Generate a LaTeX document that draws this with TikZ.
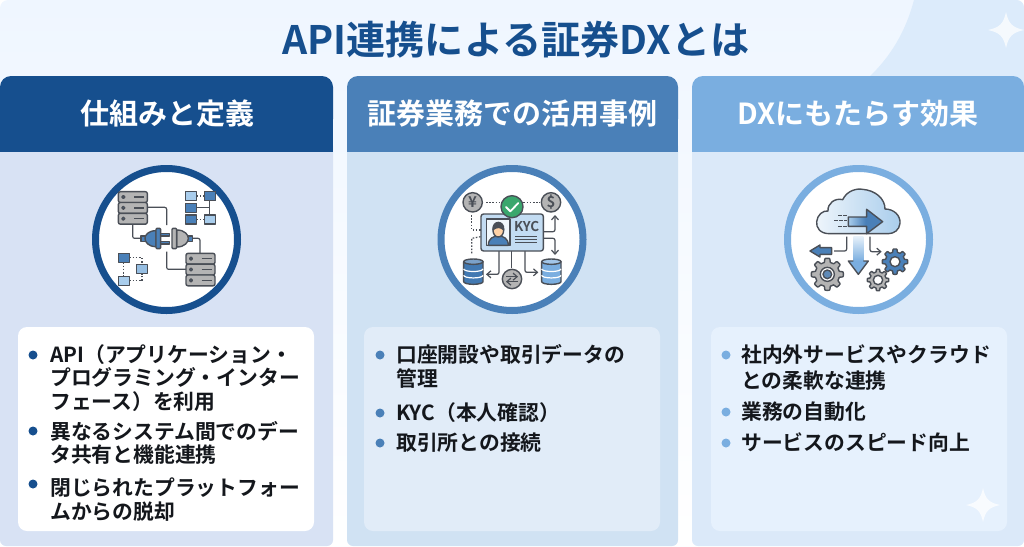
\documentclass[tikz,border=0pt]{standalone}
\usepackage{fontspec}
\setmainfont{Noto Sans CJK JP}[BoldFont=* Bold]
\definecolor{navy}{HTML}{164F8E}
\definecolor{midblue}{HTML}{4A80B8}
\definecolor{skyblue}{HTML}{7AAEE0}
\definecolor{lightbox}{HTML}{A9CDEC}
\definecolor{iconline}{HTML}{4A4F57}
\definecolor{icongray}{HTML}{B4B4B4}
\definecolor{okgreen}{HTML}{3AA76D}
\definecolor{inktext}{HTML}{14171C}
\definecolor{paletop}{HTML}{EFF6FF}
\definecolor{palecorner}{HTML}{DCEBFB}
\definecolor{boxb}{HTML}{E1ECF8}
\definecolor{boxc}{HTML}{E6F1FD}
\tikzset{
	titletext/.style={font=\fontsize{39.2}{44}\selectfont\bfseries,text=navy,inner sep=0pt},
	headtext/.style={font=\fontsize{29}{32}\selectfont\bfseries,text=white,inner sep=0pt},
	itemtext/.style={font=\fontsize{20.8}{#1}\selectfont\bfseries,text=inktext,inner sep=0pt,anchor=north west,align=left},
	itemdot/.style={circle,fill=#1,inner sep=0pt,minimum size=9pt},
	stroke/.style={draw=iconline,line width=1.4pt,line join=round},
	wire/.style={draw=iconline,line width=1.2pt,rounded corners=2pt},
	dotwire/.style={draw=iconline,line width=1.2pt,dash pattern=on 1.6pt off 1.6pt},
	wirearrow/.style={wire,-{Straight Barb[length=4pt,width=7pt]}},
	starshape/.style={fill=white,fill opacity=0.72},
}
\usetikzlibrary{arrows.meta}
% four pointed star: x, y, size
\newcommand{\starmark}[3]{
	\fill[starshape,shift={(#1,#2)},scale=#3] (0,-1) .. controls (.14,-.35) and (.35,-.14) .. (1,0) .. controls (.35,.14) and (.14,.35) .. (0,1) .. controls (-.14,.35) and (-.35,.14) .. (-1,0) .. controls (-.35,-.14) and (-.14,-.35) .. (0,-1) -- cycle;
}
% server stack: x, top y
\newcommand{\serverstack}[2]{
	\foreach \s in {0,1,2}{
		\draw[stroke,fill=icongray,rounded corners=2pt] (#1,#2+\s*32.5) rectangle (#1+87,#2+\s*32.5+32.5);
		\draw[stroke,fill=midblue] (#1+15,#2+\s*32.5+16) circle (4.5);
		\draw[stroke] (#1+47,#2+\s*32.5+16) -- (#1+77,#2+\s*32.5+16);
	}
}
% small square: x, y, colour
\newcommand{\tinybox}[3]{
	\draw[stroke,fill=#3] (#1,#2) rectangle (#1+34,#2+27);
}
% database: x, top y, bottom y, colour
\newcommand{\dbicon}[4]{
	\draw[stroke,fill=#4] (#1-29,#2) -- (#1-29,#3) arc[start angle=180,end angle=0,x radius=29,y radius=8] -- (#1+29,#2) -- cycle;
	\foreach \d in {0.36,0.68}
	\draw[draw=white,line width=1.2pt] (#1-29,{#2+\d*(#3-#2)}) arc[start angle=180,end angle=0,x radius=29,y radius=8];
	\draw[stroke,fill=#4!70!white] (#1,#2) ellipse [x radius=29,y radius=8];
}
% gear: x, y, size, colour
\newcommand{\gearicon}[4]{
	\begin{scope}[shift={(#1,#2)}]
		\draw[stroke,fill=#4] plot[domain=0:360,samples=145] (\x:{#3*(0.76+0.24*min(1,max(0,0.5+1.5*cos(8*\x))))}) -- cycle;
	\end{scope}
}
\begin{document}
\begin{tikzpicture}[x=1pt,y=-1pt]
	\useasboundingbox (0,0) rectangle (1024,546);
	% backdrop
	\shade[top color=paletop,bottom color=white,rounded corners=8pt] (0,0) rectangle (1024,546);
	\fill[palecorner] (914,0) -- (1016,0) .. controls (1021,0) and (1024,3) .. (1024,8) -- (1024,90) -- (860,90) -- (866,80) .. controls (892,56) and (906,30) .. (914,0) -- cycle;
	\starmark{1006}{30}{18}
	% title
	\node[titletext] (maintitle) at (516,40) {API連携による証券DXとは};
	% panels
	\foreach \px/\pw/\hcol/\bcol in {0/333/navy/D8E2F4,347/331/midblue/D0E2F3,692/332/skyblue/DBE9F9}{
		\definecolor{bodycol}{HTML}{\bcol}
		\fill[bodycol,rounded corners=6pt] (\px,140) rectangle (\px+\pw,546);
		\fill[\hcol,rounded corners=11pt] (\px,76) rectangle (\px+\pw,130);
		\fill[\hcol] (\px,100) rectangle (\px+\pw,152);
	}
	\node[headtext] (heada) at (167,114) {仕組みと定義};
	\node[headtext] (headb) at (512,114) {証券業務での活用事例};
	\node[headtext] (headc) at (858,114) {DXにもたらす効果};
	% text boxes
	\fill[white,rounded corners=9pt] (18,327) rectangle (314,531);
	\fill[boxb,rounded corners=9pt] (364,327) rectangle (660,531);
	\fill[boxc,rounded corners=9pt] (711,327) rectangle (1007,531);
	\starmark{983}{505}{17}
	% rings
	\foreach \cx/\rcol in {166.5/navy,512/midblue,858.5/skyblue}
	\draw[draw=\rcol,fill=white,line width=7pt] (\cx,239.5) circle (71);
	% items, left
	\node[itemdot=navy] (dota) at (33,355) {};
	\node[itemtext=23.7] (itema) at (50,344) {API（アプリケーション・\\プログラミング・インター\\フェース）を利用};
	\node[itemdot=navy] (dotb) at (33,431) {};
	\node[itemtext=23.7] (itemb) at (50,421) {異なるシステム間でのデー\\タ共有と機能連携};
	\node[itemdot=navy] (dotc) at (33,484) {};
	\node[itemtext=23.7] (itemc) at (50,478) {閉じられたプラットフォー\\ムからの脱却};
	% items, middle
	\node[itemdot=midblue] (dotd) at (380,355) {};
	\node[itemtext=24] (itemd) at (396,344) {口座開設や取引データの\\管理};
	\node[itemdot=midblue] (dote) at (380,413) {};
	\node[itemtext=24] (iteme) at (396,402) {KYC（本人確認）};
	\node[itemdot=midblue] (dotf) at (380,443) {};
	\node[itemtext=24] (itemf) at (396,433) {取引所との接続};
	% items, right
	\node[itemdot=skyblue] (dotg) at (726,355) {};
	\node[itemtext=26] (itemg) at (741,345) {社内外サービスやクラウド\\との柔軟な連携};
	\node[itemdot=skyblue] (doth) at (726,412) {};
	\node[itemtext=26] (itemh) at (741,402) {業務の自動化};
	\node[itemdot=skyblue] (doti) at (726,443) {};
	\node[itemtext=26] (itemi) at (741,433) {サービスのスピード向上};
	% plug icon
	\begin{scope}[shift={(70,150)},scale=1/3]
		\draw[wire] (232,172) -- (290,172) -- (290,225);
		\draw[wire] (188,222) -- (188,265) -- (215,265);
		\draw[wire] (290,305) -- (290,358) -- (348,358);
		\draw[wire] (365,265) -- (390,265) -- (390,312);
		\serverstack{145}{125}
		\serverstack{348}{310}
		%left plug
		\draw[stroke,fill=midblue] (213,258) rectangle (228,274);
		\draw[stroke,fill=midblue] (258,242) .. controls (235,242) and (225,255) .. (225,265) .. controls (225,276) and (235,290) .. (258,290) -- cycle;
		\draw[stroke,fill=midblue] (272,250) rectangle (298,258);
		\draw[stroke,fill=midblue] (272,274) rectangle (298,282);
		\draw[stroke,fill=midblue,rounded corners=1pt] (258,235) rectangle (272,296);
		%right plug
		\draw[stroke,fill=midblue] (352,258) rectangle (367,274);
		\draw[stroke,fill=icongray] (320,240) .. controls (345,240) and (355,255) .. (355,265) .. controls (355,276) and (345,291) .. (320,291) -- cycle;
		\draw[stroke,fill=icongray,rounded corners=1pt] (306,235) rectangle (320,296);
		%small boxes
		\draw[dotwire] (380,138) -- (403,138);
		\draw[dotwire] (380,208) -- (403,208);
		\draw[wire] (380,173) -- (418,173);
		\draw[wire] (418,152) -- (418,195);
		\tinybox{346}{125}{lightbox}
		\tinybox{403}{125}{midblue}
		\tinybox{346}{160}{midblue}
		\tinybox{346}{195}{midblue}
		\tinybox{403}{195}{lightbox}
		\draw[dotwire] (178,323) -- (216,323) -- (216,343);
		\draw[dotwire] (178,392) -- (216,392) -- (216,372);
		\draw[dotwire] (160,337) -- (160,378);
		\tinybox{145}{310}{midblue}
		\tinybox{199}{344}{lightbox!80!midblue}
		\tinybox{145}{379}{lightbox}
	\end{scope}
	% kyc icon
	\begin{scope}[shift={(420,155)},scale=1/3]
		\draw[dotwire] (198,142) -- (243,142);
		\draw[dotwire] (310,142) -- (360,142);
		\draw[dotwire] (155,180) -- (155,225) -- (182,225);
		\draw[dotwire] (155,295) -- (155,250) -- (182,245);
		\draw[wirearrow] (372,230) -- (405,230) -- (405,180);
		\draw[wirearrow] (372,250) -- (405,250) -- (405,300);
		\draw[wirearrow] (237,288) -- (237,358) -- (198,358);
		\draw[wire] (275,288) -- (275,340);
		\draw[wirearrow] (315,288) -- (315,352) -- (355,352);
		\draw[stroke,fill=icongray] (158,142) circle (29);
		\draw[stroke,fill=icongray] (393,142) circle (29);
		\node[inner sep=0pt,font=\fontsize{15}{15}\selectfont\bfseries,text=iconline] (yenmark) at (158,142) {¥};
		\node[inner sep=0pt,font=\fontsize{15}{15}\selectfont\bfseries,text=iconline] (dollarmark) at (393,142) {\$};
		\draw[stroke,fill=lightbox!70!white,rounded corners=2.5pt] (183,177) rectangle (370,288);
		\draw[stroke,fill=okgreen] (276,155) circle (33);
		\draw[draw=white,line width=1.8pt,line cap=round,line join=round] (258,156) -- (271,169) -- (295,144);
		%photo
		\draw[stroke,fill=white!85!lightbox] (200,192) rectangle (270,272);
		\draw[stroke,fill=midblue] (205,271) .. controls (205,250) and (220,243) .. (235,243) .. controls (250,243) and (265,250) .. (265,271) -- cycle;
		\draw[stroke,fill=orange!35!white] (235,226) ellipse [x radius=16,y radius=20];
		\draw[stroke,fill=iconline] (219,224) .. controls (217,195) and (253,195) .. (251,224) .. controls (240,215) and (230,215) .. (219,224) -- cycle;
		\node[inner sep=0pt,font=\fontsize{13.5}{14}\selectfont\bfseries,text=iconline] (kyclabel) at (320,216) {KYC};
		\foreach \ly in {243,253,263}
		\draw[draw=iconline,line width=.9pt] (285,\ly) -- (352,\ly);
		\dbicon{160}{320}{380}{midblue!85!navy}
		\dbicon{394}{320}{380}{skyblue}
		\draw[stroke,fill=icongray] (276,372) circle (29);
		\draw[wirearrow] (258,365) -- (294,365);
		\draw[wirearrow] (294,380) -- (258,380);
	\end{scope}
	% cloud icon
	\begin{scope}[shift={(770,155)},scale=1/3]
		\draw[stroke,left color=white!80!lightbox,right color=lightbox] (178,236) .. controls (150,236) and (138,218) .. (140,200) .. controls (142,180) and (158,166) .. (174,168) .. controls (172,145) and (195,128) .. (218,134) .. controls (232,105) and (262,100) .. (278,103) .. controls (315,106) and (345,130) .. (345,162) .. controls (372,162) and (392,182) .. (390,205) .. controls (388,225) and (372,236) .. (355,236) -- cycle;
		\foreach \ax/\ay/\bx in {205/180/235,192/197/230,205/213/230}
		\draw[draw=iconline,line width=.9pt,dash pattern=on 4pt off 1pt] (\ax,\ay) -- (\bx,\ay);
		\draw[stroke,left color=lightbox,right color=midblue,middle color=midblue] (235,186) -- (290,186) -- (290,163) -- (338,200) -- (290,236) -- (290,214) -- (235,214) -- cycle;
		\draw[wire] (192,288) -- (230,288) -- (230,245);
		\draw[wirearrow] (300,245) -- (300,290) -- (335,290);
		\fill[top color=white!70!lightbox,bottom color=skyblue] (250,245) -- (280,245) -- (280,318) -- (250,318) -- cycle;
		\draw[stroke,fill=skyblue] (250,318) -- (235,318) -- (265,358) -- (295,318) -- (280,318);
		\draw[stroke,fill=midblue] (185,278) -- (150,278) -- (150,270) -- (120,288) -- (150,306) -- (150,298) -- (185,298) -- cycle;
		\gearicon{172}{358}{48}{icongray}
		\draw[stroke,fill=white] (172,358) circle (21);
		\draw[stroke,fill=midblue!80!icongray] (172,358) circle (13);
		\gearicon{375}{320}{38}{midblue}
		\draw[stroke,fill=white] (375,320) circle (15);
		\gearicon{324}{375}{32}{icongray}
		\draw[stroke,fill=white] (324,375) circle (14);
	\end{scope}
\end{tikzpicture}
\end{document}
